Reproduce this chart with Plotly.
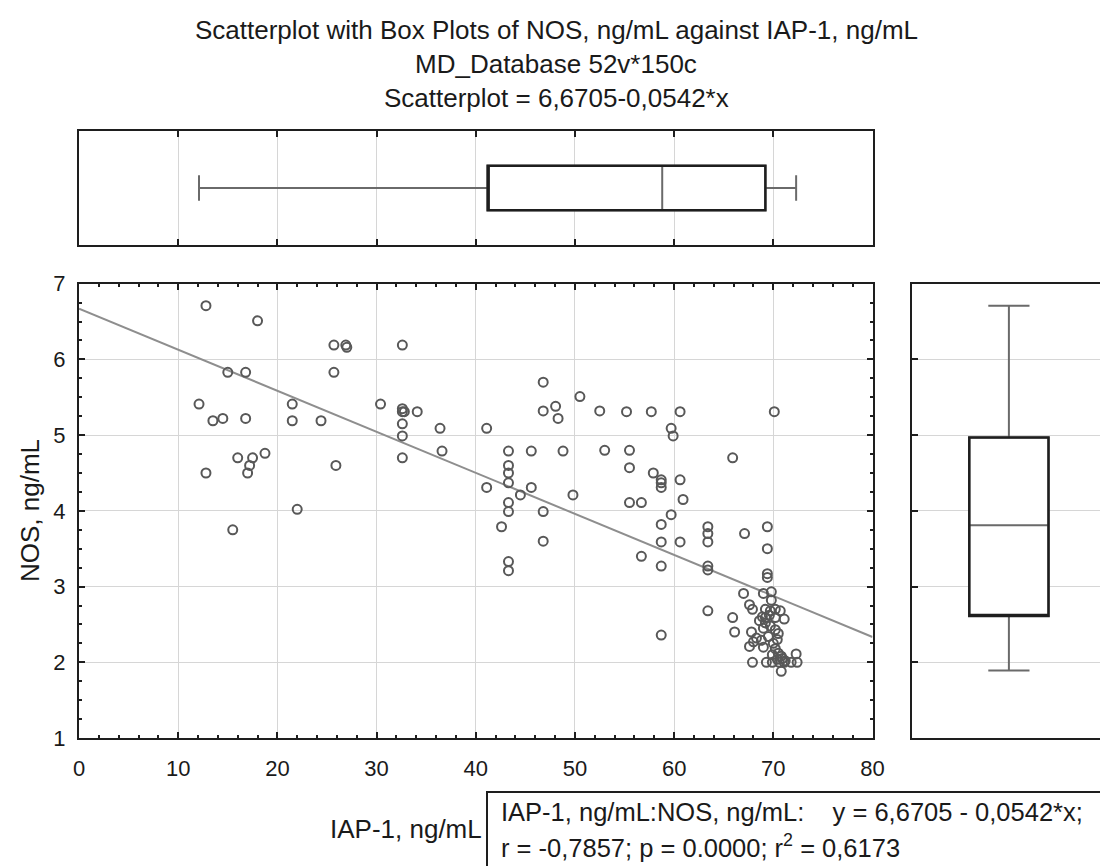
import plotly.graph_objects as go

# page body adds an 8px margin, so the figure is 8px smaller on each axis
OFF = 8
W, H = 1108 - OFF, 866 - OFF

# IAP-1, ng/mL (x) and NOS, ng/mL (y)
iap1 = [12.8, 18.0, 25.7, 26.9, 27.0, 15.0, 16.8, 25.7, 12.1, 13.5, 14.5, 16.8,
        21.5, 21.5, 24.4, 16.0, 17.5, 17.2, 17.0, 18.75, 12.8, 25.9, 22.0, 15.5,
        32.6, 30.4, 32.6, 32.6, 32.8, 34.1, 32.6, 32.6, 32.6, 36.4, 36.6, 41.1,
        41.1, 43.3, 43.3, 43.3, 43.3, 43.3, 43.3, 42.6, 44.5, 45.6, 45.6, 46.8,
        46.8, 48.05, 48.3, 48.8, 46.8, 46.8, 49.8, 50.5, 52.5, 53.0, 43.3, 43.3,
        55.2, 57.7, 60.6, 70.1, 59.7, 59.9, 55.5, 55.5, 65.9, 57.9, 58.7, 58.7,
        58.7, 60.6, 55.5, 56.7, 60.9, 59.7, 58.7, 58.7, 60.6, 63.4, 63.4, 63.4,
        67.1, 69.4, 69.4, 56.7, 58.7, 63.4, 63.4, 69.4, 69.4, 67.0, 69.0, 69.8,
        69.8, 63.4, 67.6, 67.9, 69.2, 69.7, 70.2, 70.7, 65.9, 71.1, 69.2, 70.2,
        66.1, 67.8, 69.2, 69.7, 70.2, 70.5, 68.3, 68.8, 69.5, 67.6, 68.0, 70.2,
        70.5, 70.8, 70.4, 72.3, 67.9, 69.3, 69.9, 70.6, 71.1, 71.8, 72.4, 70.8,
        58.7, 69.6, 70.0, 69.0, 68.6, 70.4, 69.9, 70.9, 69.0, 71.2, 68.9]
nos = [6.71, 6.51, 6.19, 6.19, 6.16, 5.83, 5.83, 5.83, 5.41, 5.19, 5.22, 5.22,
       5.41, 5.19, 5.19, 4.70, 4.70, 4.60, 4.50, 4.76, 4.50, 4.60, 4.02, 3.75,
       6.19, 5.41, 5.35, 5.31, 5.31, 5.31, 5.15, 4.99, 4.70, 5.09, 4.79, 5.09,
       4.31, 4.79, 4.60, 4.50, 4.37, 4.11, 3.99, 3.79, 4.21, 4.79, 4.31, 5.70,
       5.32, 5.38, 5.22, 4.79, 3.99, 3.60, 4.21, 5.51, 5.32, 4.80, 3.33, 3.21,
       5.31, 5.31, 5.31, 5.31, 5.09, 4.99, 4.80, 4.57, 4.70, 4.50, 4.41, 4.37,
       4.31, 4.41, 4.11, 4.11, 4.15, 3.95, 3.82, 3.59, 3.59, 3.79, 3.70, 3.59,
       3.70, 3.79, 3.50, 3.40, 3.27, 3.27, 3.22, 3.17, 3.12, 2.91, 2.91, 2.93,
       2.82, 2.68, 2.76, 2.70, 2.70, 2.68, 2.70, 2.68, 2.59, 2.57, 2.59, 2.59,
       2.40, 2.40, 2.52, 2.48, 2.43, 2.38, 2.32, 2.29, 2.34, 2.21, 2.27, 2.18,
       2.12, 2.08, 2.04, 2.11, 2.00, 2.00, 2.00, 2.00, 2.00, 2.00, 2.00, 1.88,
       2.36, 2.62, 2.25, 2.45, 2.55, 2.30, 2.10, 2.05, 2.20, 2.02, 2.60]

# regression coefficients
intercept, slope = 6.6705, -0.0542
line_x = [0, 80]

# box plot statistics: min, q1, median, q3, max
iap1_box = [12.1, 41.2, 58.8, 69.2, 72.3]
nos_box = [1.89, 2.61, 3.81, 4.97, 6.71]

title_lines = ["Scatterplot with Box Plots of NOS, ng/mL against IAP-1, ng/mL",
               "MD_Database 52v*150c",
               "Scatterplot = 6,6705-0,0542*x"]

FONT = "Liberation Sans, Arial, sans-serif"
TXT = "#1a1a1a"
DARK = "#585858"


def px(x):
    return (x - OFF) / W


def py(y):
    return 1 - (y - OFF) / H


fig = go.Figure()

fig.add_trace(go.Scatter(
    x=line_x, y=[intercept + slope * v for v in line_x], mode="lines",
    line=dict(color="#8e8e8e", width=2), xaxis="x", yaxis="y", hoverinfo="skip"))
fig.add_trace(go.Scatter(
    x=iap1, y=nos, mode="markers", xaxis="x", yaxis="y",
    marker=dict(symbol="circle-open", size=9, color=DARK, line=dict(width=2, color=DARK))))

# top box (IAP-1) - gray whiskers/median, black box outline
mn, q1, md, q3, mx = iap1_box
fig.add_trace(go.Box(
    orientation="h", y=[0], q1=[q1], median=[md], q3=[q3], lowerfence=[mn], upperfence=[mx],
    width=0.39, whiskerwidth=0.57, line=dict(color="#6a6a6a", width=2),
    fillcolor="white", xaxis="x2", yaxis="y2", hoverinfo="skip"))
fig.add_trace(go.Box(
    orientation="h", y=[0], q1=[q1], median=[q1], q3=[q3], lowerfence=[q1], upperfence=[q3],
    width=0.39, whiskerwidth=0, line=dict(color="#1e1e1e", width=2.5),
    fillcolor="rgba(0,0,0,0)", xaxis="x2", yaxis="y2", hoverinfo="skip"))

# right box (NOS)
mn, q1, md, q3, mx = nos_box
fig.add_trace(go.Box(
    x=[0], q1=[q1], median=[md], q3=[q3], lowerfence=[mn], upperfence=[mx],
    width=0.41, whiskerwidth=0.52, line=dict(color="#6a6a6a", width=2),
    fillcolor="white", xaxis="x3", yaxis="y3", hoverinfo="skip"))
fig.add_trace(go.Box(
    x=[0], q1=[q1], median=[q1], q3=[q3], lowerfence=[q1], upperfence=[q3],
    width=0.41, whiskerwidth=0, line=dict(color="#1e1e1e", width=2.5),
    fillcolor="rgba(0,0,0,0)", xaxis="x3", yaxis="y3", hoverinfo="skip"))

frame = dict(showline=True, linecolor="#1e1e1e", linewidth=2, mirror="ticks", zeroline=False,
             ticks="inside", tickcolor="#1e1e1e", tickwidth=2, ticklen=6,
             gridcolor="#d6d6d6", gridwidth=1, automargin=False)
minor = dict(ticks="inside", ticklen=3, tickwidth=2, tickcolor="#1e1e1e", showgrid=False)

main_x = [px(79), px(872.5)]
main_y = [py(738), py(283.7)]

fig.update_layout(
    width=W, height=H, margin=dict(l=0, r=0, t=0, b=0),
    paper_bgcolor="white", plot_bgcolor="white", showlegend=False,
    font=dict(family=FONT, size=22, color=TXT),
    xaxis=dict(frame, domain=main_x, range=[0, 80], dtick=10, anchor="y",
               minor=dict(minor, dtick=2), showgrid=True, ticklabelstandoff=10,
               tickfont=dict(size=22, color=TXT)),
    yaxis=dict(frame, domain=main_y, range=[1, 7], dtick=1, anchor="x",
               minor=dict(minor, dtick=0.25), showgrid=True, ticklabelstandoff=7,
               tickfont=dict(size=22, color=TXT)),
    xaxis2=dict(frame, domain=main_x, range=[0, 80], dtick=10, anchor="y2",
                showgrid=True, showticklabels=False),
    yaxis2=dict(frame, domain=[py(245), py(131)], range=[-0.5, 0.5], anchor="x2",
                showgrid=False, showticklabels=False, ticks=""),
    xaxis3=dict(frame, domain=[px(912.3), px(1105.5)], range=[-0.5, 0.5], anchor="y3",
                showgrid=False, showticklabels=False, ticks=""),
    yaxis3=dict(frame, domain=main_y, range=[1, 7], dtick=1, anchor="x3",
                showgrid=True, showticklabels=False),
)

for t, yy in zip(title_lines, [30, 64, 98]):
    fig.add_annotation(text=t, x=px(556), y=py(yy), xref="paper", yref="paper",
                       showarrow=False, xanchor="center", yanchor="middle",
                       font=dict(size=26, color=TXT))

fig.add_annotation(text="NOS, ng/mL", x=px(30), y=py(511), xref="paper", yref="paper",
                   showarrow=False, textangle=-90, xanchor="center", yanchor="middle",
                   font=dict(size=26, color=TXT))
fig.add_annotation(text="IAP-1, ng/mL", x=px(484), y=py(829), xref="paper", yref="paper",
                   showarrow=False, xanchor="right", yanchor="middle",
                   font=dict(size=26, color=TXT))

# regression statistics box
fig.add_shape(type="rect", xref="paper", yref="paper", x0=px(487), x1=px(1104),
              y0=py(880), y1=py(792), line=dict(color="#1e1e1e", width=2), fillcolor="white")
fig.add_annotation(text="IAP-1, ng/mL:NOS, ng/mL:" + "&nbsp;" * 4 + "y = 6,6705 - 0,0542*x;",
                   x=px(499), y=py(812), xref="paper", yref="paper", showarrow=False,
                   xanchor="left", yanchor="middle", font=dict(size=25.5, color=TXT))
fig.add_annotation(text="r = -0,7857; p = 0.0000; r<sup>2</sup> = 0,6173",
                   x=px(499), y=py(846), xref="paper", yref="paper", showarrow=False,
                   xanchor="left", yanchor="middle", font=dict(size=25.5, color=TXT))

fig.write_html("out.html")
